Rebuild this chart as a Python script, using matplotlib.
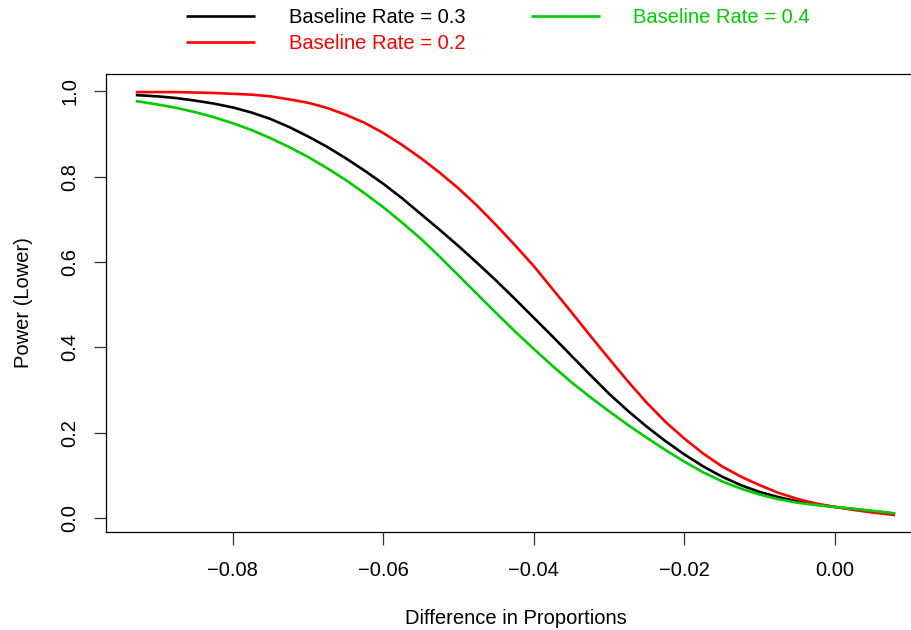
import matplotlib
matplotlib.use("Agg")
import matplotlib.pyplot as plt
from matplotlib.ticker import FixedLocator, FuncFormatter

plt.rcParams['font.family'] = ['Liberation Sans', 'DejaVu Sans']

# Difference in proportions (x) and power curves
diff = [-0.0929, -0.0900, -0.0875, -0.0850, -0.0825, -0.0800, -0.0775, -0.0750,
        -0.0725, -0.0700, -0.0675, -0.0650, -0.0625, -0.0600, -0.0575, -0.0550,
        -0.0525, -0.0500, -0.0475, -0.0450, -0.0425, -0.0400, -0.0375, -0.0350,
        -0.0325, -0.0300, -0.0275, -0.0250, -0.0225, -0.0200, -0.0175, -0.0150,
        -0.0125, -0.0100, -0.0075, -0.0050, -0.0025, 0.0000, 0.0025, 0.0050, 0.0080]
power_03 = [0.991, 0.988, 0.984, 0.978, 0.971, 0.962, 0.950, 0.935,
            0.916, 0.894, 0.870, 0.843, 0.814, 0.783, 0.749, 0.712,
            0.675, 0.637, 0.597, 0.556, 0.513, 0.469, 0.425, 0.380,
            0.335, 0.291, 0.251, 0.214, 0.180, 0.149, 0.121, 0.097,
            0.077, 0.061, 0.049, 0.039, 0.032, 0.026, 0.021, 0.016, 0.010]
power_02 = [0.998, 0.998, 0.998, 0.997, 0.996, 0.994, 0.992, 0.988,
            0.981, 0.973, 0.961, 0.945, 0.926, 0.902, 0.874, 0.843,
            0.809, 0.772, 0.731, 0.686, 0.639, 0.590, 0.536, 0.482,
            0.427, 0.373, 0.320, 0.270, 0.225, 0.186, 0.151, 0.121,
            0.097, 0.077, 0.059, 0.045, 0.034, 0.026, 0.019, 0.013, 0.007]
power_04 = [0.977, 0.969, 0.961, 0.951, 0.939, 0.925, 0.909, 0.890,
            0.869, 0.846, 0.820, 0.792, 0.761, 0.728, 0.692, 0.654,
            0.612, 0.568, 0.524, 0.480, 0.437, 0.396, 0.356, 0.318,
            0.283, 0.250, 0.218, 0.188, 0.159, 0.132, 0.107, 0.086,
            0.069, 0.055, 0.044, 0.036, 0.0305, 0.026, 0.0215, 0.017, 0.011]

labels = ["Baseline Rate = 0.3", "Baseline Rate = 0.2", "Baseline Rate = 0.4"]
colors = ["#000000", "#FF0000", "#00CD00"]
xticks = [-0.08, -0.06, -0.04, -0.02, 0.00]
yticks = [0.0, 0.2, 0.4, 0.6, 0.8, 1.0]

FS = 14.5
W, H = 911, 630
fig = plt.figure(figsize=(W / 100, H / 100), dpi=100)
left, right, top, bottom = 105.7, 926.0, 74.3, 531.7
ax = fig.add_axes([left / W, (H - bottom) / H, (right - left) / W, (bottom - top) / H])

for y, c, lab in zip([power_03, power_02, power_04], colors, labels):
    ax.plot(diff, y, color=c, lw=1.9, label=lab, solid_capstyle='butt',
            solid_joinstyle='round')

ax.set_xlim(-0.0969, 0.0121)
ax.set_ylim(-0.0320, 1.0397)
ax.xaxis.set_major_locator(FixedLocator(xticks))
ax.yaxis.set_major_locator(FixedLocator(yticks))
ax.xaxis.set_major_formatter(FuncFormatter(
    lambda v, p: f"{v:.2f}".replace("-", "\u2212") if abs(v) > 1e-9 else "0.00"))
ax.yaxis.set_major_formatter(FuncFormatter(lambda v, p: f"{v:.1f}"))
for s in ax.spines.values():
    s.set_linewidth(0.9)
ax.spines['right'].set_visible(False)
ax.tick_params(axis='both', direction='out', length=9, width=0.9, color='#333333',
               labelsize=FS)
ax.tick_params(axis='x', pad=12)
ax.tick_params(axis='y', pad=10)
for lbl in ax.get_yticklabels():
    lbl.set_rotation(90)
    lbl.set_va('center')

ax.set_xlabel("Difference in Proportions", fontsize=FS, labelpad=21)
ax.set_ylabel("Power (Lower)", fontsize=FS, labelpad=20)

handles, labs = ax.get_legend_handles_labels()
leg = fig.legend(handles, labs, loc='upper left', bbox_to_anchor=(186 / W, 1 - 8 / H),
                 ncol=2, frameon=False, fontsize=FS, handlelength=3.45,
                 handletextpad=1.65, columnspacing=3.25, labelspacing=0.34,
                 borderpad=0, borderaxespad=0, labelcolor='linecolor')

fig.savefig("out.png", dpi=100)
